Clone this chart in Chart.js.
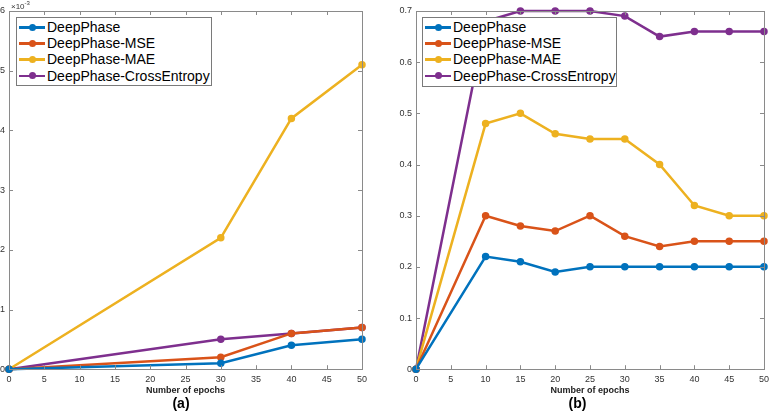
<!DOCTYPE html>
<html>
<head>
<meta charset="utf-8">
<script src="https://cdn.jsdelivr.net/npm/chart.js@4/dist/chart.umd.min.js"></script>
<style>
  body { margin: 0; background: #fff; }
  #wrap { position: relative; width: 774px; height: 413px; font-family: "Liberation Sans", Arial, sans-serif; }
  .pane { position: absolute; top: 0; width: 387px; height: 413px; }
  .legend { position: absolute; background: #fff; border: 1px solid #7a7a7a; box-sizing: border-box; padding-top: 1px; }
  .row { height: 16.2px; display: flex; align-items: center; font-size: 14px; color: #000; white-space: nowrap; }
  .sw { position: relative; width: 26px; height: 16px; margin: 0 2px 0 2px; }
  .sw .ln { position: absolute; left: 0; right: 0; top: 7px; height: 2.5px; }
  .sw .dt { position: absolute; left: 10px; top: 4.5px; width: 7px; height: 7px; border-radius: 50%; }
  .exp { position: absolute; left: 11px; top: 0px; font-size: 8px; color: #333; }
  .exp sup { font-size: 6px; }
</style>
</head>
<body>
<div id="wrap">
  <div class="pane" style="left:0"><canvas id="chartA" width="387" height="413"></canvas></div>
  <div class="pane" style="left:387px"><canvas id="chartB" width="387" height="413"></canvas></div>
  <div class="exp">&times;10<sup>-3</sup></div>
  <div class="legend" id="legA" style="left:16px;top:17px;width:196px;height:69px"></div>
  <div class="legend" id="legB" style="left:422px;top:17px;width:195px;height:70px"></div>
</div>
<script>
const seriesNames = ['DeepPhase', 'DeepPhase-MSE', 'DeepPhase-MAE', 'DeepPhase-CrossEntropy'];
const seriesColors = ['#0072BD', '#D95319', '#EDB120', '#7E2F8E'];

// (a) epochs and values (real values, axis shows x10^-3)
const epochsA = [0, 30, 40, 50];
const deepPhaseA = [0, 0.0001, 0.0004, 0.0005];
const mseA = [0, 0.0002, 0.0006, 0.0007];
const maeA = [0, 0.0022, 0.0042, 0.0051];
const crossEntropyA = [0, 0.0005, 0.0006, 0.0007];

// (b)
const epochsB = [0, 10, 15, 20, 25, 30, 35, 40, 45, 50];
const deepPhaseB = [0, 0.22, 0.21, 0.19, 0.20, 0.20, 0.20, 0.20, 0.20, 0.20];
const mseB = [0, 0.30, 0.28, 0.27, 0.30, 0.26, 0.24, 0.25, 0.25, 0.25];
const maeB = [0, 0.48, 0.50, 0.46, 0.45, 0.45, 0.40, 0.32, 0.30, 0.30];
const crossEntropyB = [0, 0.68, 0.70, 0.70, 0.70, 0.69, 0.65, 0.66, 0.66, 0.66];

const xTicks = [0, 5, 10, 15, 20, 25, 30, 35, 40, 45, 50];
const yTicksA = [0, 1, 2, 3, 4, 5, 6];
const yTicksB = [0, 0.1, 0.2, 0.3, 0.4, 0.5, 0.6, 0.7];

const tickFont = { family: 'Liberation Sans', size: 9 };
const axisColor = '#8a8a8a';

// MATLAB-like box with inward ticks
const boxPlugin = {
    id: 'matlabBox',
    afterDatasetsDraw(chart) {
        const { ctx, chartArea: a, scales } = chart;
        ctx.save();
        ctx.strokeStyle = axisColor;
        ctx.lineWidth = 1;
        ctx.beginPath();
        scales.x.ticks.forEach(t => {
            const px = Math.round(scales.x.getPixelForValue(t.value)) + 0.5;
            ctx.moveTo(px, a.bottom); ctx.lineTo(px, a.bottom - 4);
            ctx.moveTo(px, a.top); ctx.lineTo(px, a.top + 4);
        });
        scales.y.ticks.forEach(t => {
            const py = Math.round(scales.y.getPixelForValue(t.value)) + 0.5;
            ctx.moveTo(a.left, py); ctx.lineTo(a.left + 4, py);
            ctx.moveTo(a.right, py); ctx.lineTo(a.right - 4, py);
        });
        ctx.stroke();
        ctx.strokeRect(Math.round(a.left) + 0.5, Math.round(a.top) + 0.5,
            Math.round(a.right - a.left), Math.round(a.bottom - a.top));
        ctx.restore();
    }
};

function makeDatasets(epochs, lists) {
    return lists.map((vals, i) => ({
        label: seriesNames[i],
        data: epochs.map((e, j) => ({ x: e, y: vals[j] })),
        borderColor: seriesColors[i],
        backgroundColor: seriesColors[i],
        pointBackgroundColor: seriesColors[i],
        borderWidth: 2.5,
        pointRadius: 3,
        pointBorderWidth: 1.5,
        clip: false,
        tension: 0
    }));
}

function makeChart(id, datasets, yTicks, yMax, yWidth, padRight, label, yFmt) {
    new Chart(document.getElementById(id), {
        type: 'line',
        data: { datasets: datasets },
        options: {
            responsive: false,
            animation: false,
            layout: { padding: { left: 0, right: padRight, top: 11, bottom: 0 } },
            plugins: {
                legend: { display: false },
                tooltip: { enabled: false },
                title: {
                    display: true,
                    position: 'bottom',
                    text: label,
                    color: '#000',
                    font: { family: 'Liberation Sans', size: 14, weight: 'bold' },
                    padding: { top: 0, bottom: 0 }
                }
            },
            scales: {
                x: {
                    type: 'linear',
                    min: 0, max: 50,
                    afterBuildTicks: s => { s.ticks = xTicks.map(v => ({ value: v })); },
                    afterFit: s => { s.height = 27; },
                    grid: { display: false, drawTicks: false },
                    border: { display: false },
                    ticks: { font: tickFont, color: '#333', padding: 5, maxRotation: 0 },
                    title: {
                        display: true,
                        text: 'Number of epochs',
                        color: '#222',
                        font: { family: 'Liberation Sans', size: 9, weight: 'bold' },
                        padding: { top: 0, bottom: 0 }
                    }
                },
                y: {
                    min: 0, max: yMax,
                    afterBuildTicks: s => { s.ticks = yTicks.map(v => ({ value: v })); },
                    afterFit: s => { s.width = yWidth; },
                    grid: { display: false, drawTicks: false },
                    border: { display: false },
                    ticks: { font: tickFont, color: '#333', padding: 4, callback: yFmt }
                }
            }
        },
        plugins: [boxPlugin]
    });
}

makeChart('chartA', makeDatasets(epochsA, [deepPhaseA, mseA, maeA, crossEntropyA]),
    yTicksA.map(v => v / 1000), 0.006, 9, 25, '(a)', v => String(Math.round(v * 1000)));
makeChart('chartB', makeDatasets(epochsB, [deepPhaseB, mseB, maeB, crossEntropyB]),
    yTicksB, 0.7, 29, 6, '(b)', v => (v === 0 ? '0' : v.toFixed(1)));

function buildLegend(id) {
    const box = document.getElementById(id);
    seriesNames.forEach((name, i) => {
        const row = document.createElement('div');
        row.className = 'row';
        row.innerHTML = `<div class="sw"><div class="ln" style="background:${seriesColors[i]}"></div>` +
            `<div class="dt" style="background:${seriesColors[i]}"></div></div><span>${name}</span>`;
        box.appendChild(row);
    });
}
buildLegend('legA');
buildLegend('legB');
</script>
</body>
</html>
